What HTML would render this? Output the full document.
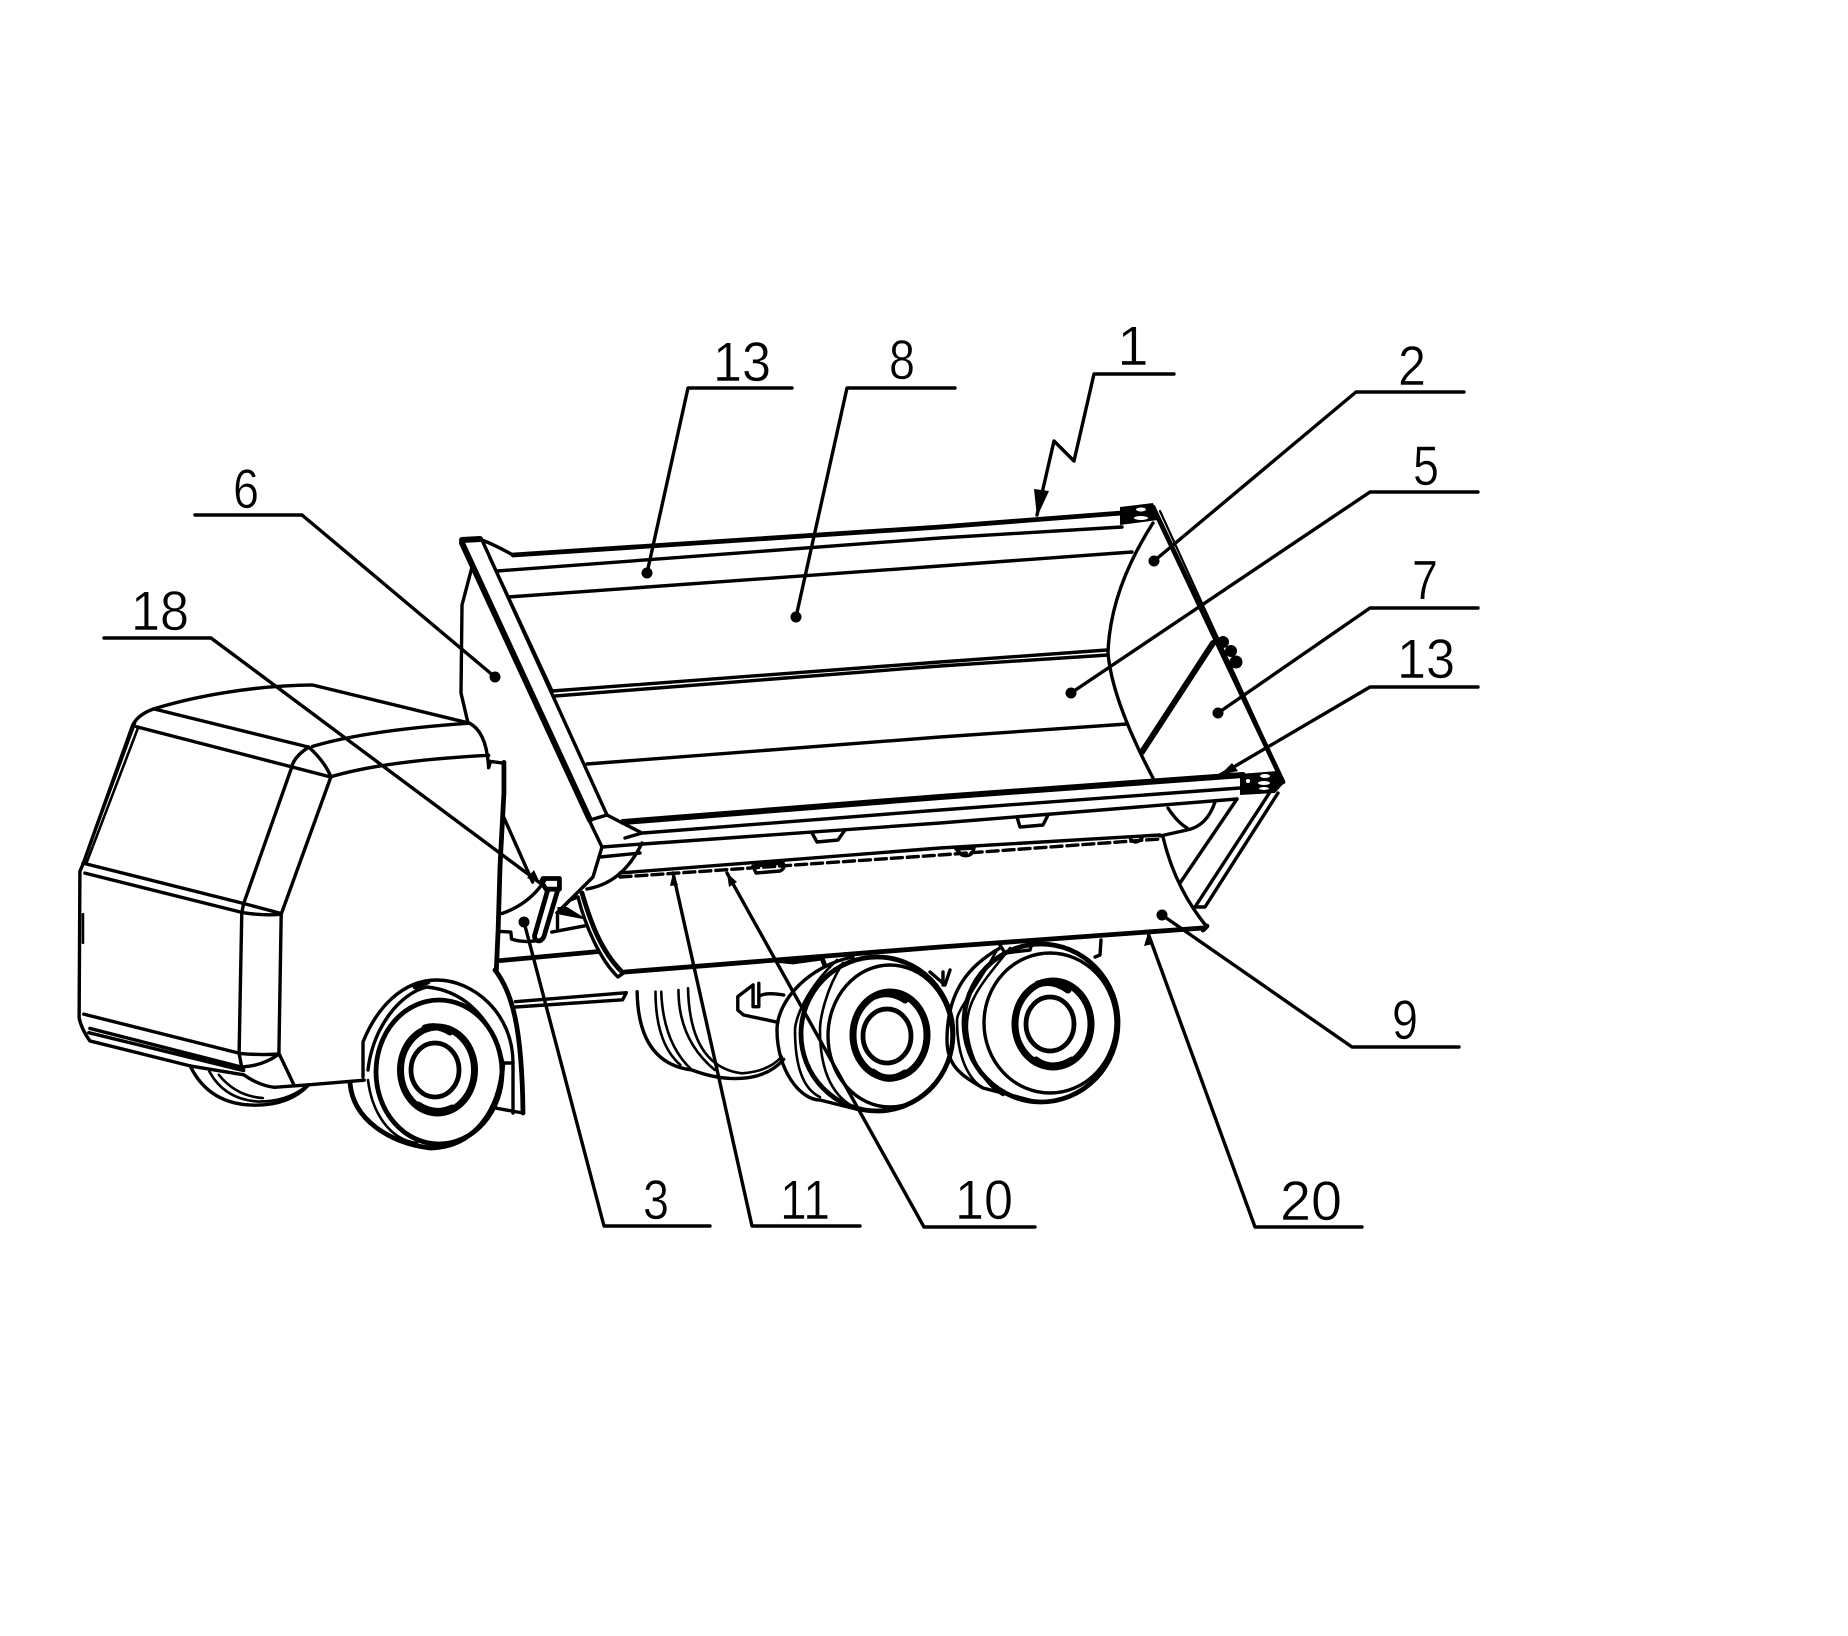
<!DOCTYPE html>
<html><head><meta charset="utf-8"><style>
html,body{margin:0;padding:0;background:#fff;width:1848px;height:1636px;overflow:hidden}
svg{display:block}
.t{font-family:"Liberation Sans",sans-serif;font-size:56px;fill:#000;text-anchor:middle;stroke:#fff;stroke-width:.6}
path,line,ellipse,polyline{fill:none;stroke:#000;stroke-width:2.6;stroke-linejoin:round;stroke-linecap:round;vector-effect:non-scaling-stroke}
.k{stroke-width:4.8}.m{stroke-width:3.4}.h{stroke-width:6}.l{stroke-width:2.2}.x{stroke-width:7}
circle{fill:#000;stroke:none}polygon{fill:#000;stroke:none}
.w{fill:#fff;stroke:none}
</style></head><body>
<svg width="1848" height="1636" viewBox="0 0 1848 1636" xmlns="http://www.w3.org/2000/svg">
<rect width="1848" height="1636" fill="#fff"/>

<!-- cab, coordinates from crop -->
<g transform="translate(60,650) scale(.3827,.357)">
<path class="m" d="M245,165C350,130 500,100 660,98L1070,205"/>
<path class="m" d="M245,165Q205,180 190,210L60,600L52,620L50,1030Q55,1060 78,1095L340,1165L480,1190Q520,1220 560,1225L650,1218L795,1205"/>
<path d="M205,215L68,600M196,205L60,600"/>
<path class="m" d="M245,165L650,272M200,215L705,355"/>
<path class="m" d="M650,272Q610,300 605,330L480,710L475,735L468,1130L475,1170"/>
<path class="m" d="M650,272Q690,310 708,355L578,740L572,1130Q590,1170 612,1220"/>
<path class="m" d="M60,597L480,710L578,738M65,625L475,735Q530,745 578,740"/>
<path class="m" d="M62,1020L470,1130Q520,1135 572,1132M475,1168Q530,1165 572,1132"/>
<path class="m" d="M78,1060L480,1170M75,1072L480,1178"/>
<path d="M60,740V820M50,920V1010"/>
<path class="m" d="M660,270Q800,225 1070,205Q1115,230 1120,330L1125,312L1160,317"/>
<path class="m" d="M708,355Q850,310 1120,295"/>
<path class="k" d="M1160,315L1160,400L1150,600L1145,780L1140,900"/>
<path class="m" d="M1158,465L1235,650"/>
<path class="m" d="M1155,738Q1230,710 1270,640"/>
<path class="m" d="M1145,788L1178,790L1180,810Q1210,820 1240,815"/>
<path class="k" d="M1150,870L1405,845"/>
<path class="m" d="M1285,790L1375,772M1300,745V780"/>
<path class="m" d="M1190,985L1480,960L1470,980L1190,1000"/>
<!-- wheel behind the bumper -->
<path class="m" d="M340,1165Q390,1275 510,1275Q600,1275 650,1218"/>
<path d="M390,1180Q430,1260 520,1265Q590,1265 640,1225M415,1190Q460,1250 530,1255"/>
</g>

<!-- front wheel and fender -->
<path class="k" d="M495,970C513,993 522,1030 523,1113"/>
<path class="m" d="M523,1113L495,1108M513,1063V1113M513,1063H503"/>
<path class="m" d="M363,1077V1042C377,1007 403,980 437,980C473,980 513,1013 513,1063"/>
<path class="m" d="M368,1070C373,1027 400,993 427,987C457,990 490,1010 503,1063"/>
<path class="k" d="M415,987L428,982"/>
<ellipse class="k" cx="439" cy="1072" rx="63" ry="72"/>
<path class="k" d="M350,1083C353,1120 390,1143 430,1148C473,1147 500,1113 503,1063"/>
<path d="M368,1080C372,1113 390,1140 417,1143"/>
<ellipse class="x" cx="437.5" cy="1070" rx="37" ry="43"/>
<ellipse class="k" cx="435" cy="1070" rx="24" ry="27"/>
<path class="x" d="M425,1028Q437,1024 450,1032M418,1105Q435,1116 452,1108"/>

<!-- rear-most hidden wheels and hook -->
<g transform="translate(600,900) scale(.3827,.3333)">
<path class="m" d="M97,275Q100,490 240,510Q310,540 370,535Q440,530 480,478"/>
<path d="M145,275Q145,430 210,495M160,275Q165,430 240,510M205,270Q205,420 300,510M230,265Q235,500 370,520Q440,515 475,470"/>
<path class="m" d="M400,255L360,290V330L375,345L465,367M400,255V320H415V290Q430,275 480,285M415,250V290"/>
</g>

<!-- middle tandem -->
<path class="k" d="M773,960L793,962L822,958L825,966"/>
<path class="m" d="M853,957C810,965 777,1000 777,1030C777,1070 800,1100 820,1100L860,1110"/>
<path d="M837,960C805,990 795,1020 795,1030C795,1070 805,1090 820,1097M843,963C825,990 820,1020 820,1030C820,1075 835,1100 860,1110"/>
<ellipse class="k" cx="877" cy="1034" rx="76" ry="77"/>
<ellipse class="m" cx="890" cy="1036" rx="62" ry="71"/>
<ellipse class="x" cx="890" cy="1035" rx="37" ry="43"/>
<ellipse class="k" cx="887" cy="1036" rx="24" ry="27"/>
<path class="x" d="M875,996Q890,990 905,1000M873,1072Q888,1084 905,1073"/>
<path class="m" d="M930,972L945,985L950,970M943,972V985"/>
<!-- rear tandem -->
<path class="m" d="M1000,948C970,965 947,990 947,1040C947,1065 960,1075 983,1088L1037,1102"/>
<path d="M997,950C975,990 957,1010 957,1020C957,1060 970,1080 983,1088M1010,948C985,980 965,1000 967,1030C970,1060 985,1085 1003,1095"/>
<ellipse class="k" cx="1041" cy="1023" rx="77" ry="79"/>
<ellipse class="m" cx="1050" cy="1023" rx="66" ry="70"/>
<ellipse class="x" cx="1053" cy="1024" rx="38" ry="43"/>
<ellipse class="k" cx="1050" cy="1024" rx="24" ry="27"/>
<path class="x" d="M1038,984Q1053,979 1068,990M1036,1060Q1052,1072 1072,1060"/>
<path class="m" d="M1000,945L1005,953L1030,950L1032,943M1101,940L1100,955L1095,957"/>

<!-- body lines -->
<path class="k" d="M513,555L940,527L1122,513"/>
<path class="m" d="M497,571L940,538L1122,527"/>
<path class="m" d="M508,597L940,566L1132,552"/>
<path class="m" d="M552,691L940,662L1107,650M555,696L940,666L1108,655"/>
<path class="m" d="M587,764L940,737L1127,724"/>
<path class="h" d="M623,822L940,797L1243,775"/>
<path class="m" d="M643,833L940,810L1240,788"/>
<path class="m" d="M643,844L940,823L1237,799"/>
<path class="m" d="M602,847L642,844M600,857L640,853"/>
<path class="m" d="M620,873L940,848L1160,835"/>
<path class="m" stroke-dasharray="11 5" d="M620,877L940,855L1160,839"/>
<path class="k" d="M625,972L940,947L1203,928"/>

<!-- front plate -->
<path class="h" d="M462,543L590,820M462,540L480,539"/>
<path class="m" d="M482,540L607,815M482,540Q495,545 513,555M490,558L552,691"/>
<path class="m" d="M472,567L462,605L461,693L468,723"/>
<path class="m" d="M590,820L607,815L642,833L625,838M590,822L602,847L593,877L557,913"/>
<path class="m" d="M642,843Q623,883 587,889"/>
<!-- lower front strip -->
<path class="k" d="M582,893C590,920 600,950 622,972"/>
<path class="m" d="M578,897C585,925 600,960 618,977L625,972"/>
<path class="m" d="M557,913L570,900L578,897"/>

<!-- tabs -->
<path class="m" d="M812,833L817,842L838,840L845,830"/>
<path class="m" d="M1017,817L1020,827L1043,825L1048,815"/>
<path class="m" d="M753,866L783,863Q786,868 780,871L756,873Z"/>
<path class="m" d="M956,849L974,848Q972,858 962,855ZM1130,838Q1135,846 1142,838"/>

<!-- right side -->
<path class="k" d="M1153,507L1283,782"/>
<path class="l" d="M1160,511L1280,774"/>
<polygon points="1120,507 1153,503 1158,520 1120,525"/>
<ellipse class="w" cx="1141" cy="509.5" rx="5" ry="2"/>
<ellipse class="w" cx="1141" cy="518" rx="7" ry="2"/>
<path class="m" d="M1153,523Q1110,590 1108,653Q1112,700 1153,778"/>
<path class="h" d="M1213,643L1142,752"/>
<circle cx="1223" cy="642" r="6"/><circle cx="1231" cy="651" r="6"/><circle cx="1236" cy="662" r="6.5"/>
<polygon points="1240,774 1277,771 1285,782 1275,793 1240,795"/>
<ellipse class="w" cx="1265" cy="776" rx="5" ry="2"/>
<ellipse class="w" cx="1264" cy="783" rx="6" ry="2"/>
<ellipse class="w" cx="1264" cy="788.5" rx="5" ry="1.5"/>
<ellipse class="w" cx="1248" cy="781" rx="2" ry="2"/>
<path class="m" d="M1270,792L1195,907M1278,793L1205,907H1195"/>
<path class="m" d="M1237,799L1180,883"/>
<path class="m" d="M1215,802Q1207,826 1187,830L1160,836M1168,808Q1177,822 1187,828"/>
<path class="m" d="M1163,837Q1175,888 1207,927"/>
<path class="k" d="M1203,930L1207,926"/>

<!-- leader lines -->
<g>
<path class="m" d="M792,388H688L647,573"/>
<path class="m" d="M955,388H847L796,617"/>
<path class="m" d="M1174,374H1094L1074,461L1054,441L1037,515"/>
<path class="m" d="M1464,392H1356L1154,561"/>
<path class="m" d="M1478,492H1370L1071,693"/>
<path class="m" d="M1478,608H1370L1218,713"/>
<path class="m" d="M1478,687H1370L1220,775"/>
<path class="m" d="M1459,1047H1352L1162,915"/>
<path class="m" d="M1362,1227H1255L1148,933"/>
<path class="m" d="M302,515H195M302,515L495,677"/>
<path class="m" d="M211,638H104M211,638L540,883"/>
<path class="m" d="M710,1226H604L524,922"/>
<path class="m" d="M860,1226H752L673,873"/>
<path class="m" d="M1035,1227H924L727,873"/>
<circle cx="647" cy="573" r="5.5"/><circle cx="796" cy="617" r="5.5"/><circle cx="1154" cy="561" r="5.5"/>
<circle cx="1071" cy="693" r="5.5"/><circle cx="1218" cy="713" r="5.5"/><circle cx="1162" cy="915" r="5.5"/>
<circle cx="495" cy="677" r="5.5"/><circle cx="524" cy="922" r="5.5"/>
<polygon points="1037,517 1034,489 1049,491"/>
<polygon points="1220,775 1232,763 1238,771"/>
<polygon points="1148,933 1144,946 1153,944"/>
<polygon points="673,873 670,886 678,885"/>
<polygon points="727,873 729,887 737,882"/>
<polygon points="540,883 527,878 534,870"/>
</g>

<!-- hinge -->
<g transform="translate(60,650) scale(.3827,.357)">
<path class="k" d="M1258,650L1262,640H1305V670H1270Z"/>
<path class="k" d="M1275,670L1240,800Q1240,815 1252,815Q1264,812 1268,790L1300,675"/>
<polygon points="1300,720 1325,720 1370,750 1372,755 1300,740"/>
</g>

<!-- labels -->
<text class="t" x="742" y="381" textLength="58" lengthAdjust="spacingAndGlyphs">13</text>
<text class="t" x="902" y="379" textLength="26" lengthAdjust="spacingAndGlyphs">8</text>
<text class="t" x="1133" y="365">1</text>
<text class="t" x="1412" y="385" textLength="28" lengthAdjust="spacingAndGlyphs">2</text>
<text class="t" x="1426" y="485" textLength="26" lengthAdjust="spacingAndGlyphs">5</text>
<text class="t" x="1425" y="599" textLength="26" lengthAdjust="spacingAndGlyphs">7</text>
<text class="t" x="1426" y="678" textLength="58" lengthAdjust="spacingAndGlyphs">13</text>
<text class="t" x="246" y="508" textLength="26" lengthAdjust="spacingAndGlyphs">6</text>
<text class="t" x="160" y="630" textLength="58" lengthAdjust="spacingAndGlyphs">18</text>
<text class="t" x="1405" y="1039" textLength="26" lengthAdjust="spacingAndGlyphs">9</text>
<text class="t" x="656" y="1219" textLength="26" lengthAdjust="spacingAndGlyphs">3</text>
<text class="t" x="805" y="1219" textLength="50" lengthAdjust="spacingAndGlyphs">11</text>
<text class="t" x="984" y="1219" textLength="58" lengthAdjust="spacingAndGlyphs">10</text>
<text class="t" x="1311" y="1220" textLength="62" lengthAdjust="spacingAndGlyphs">20</text>
</svg>
</body></html>
